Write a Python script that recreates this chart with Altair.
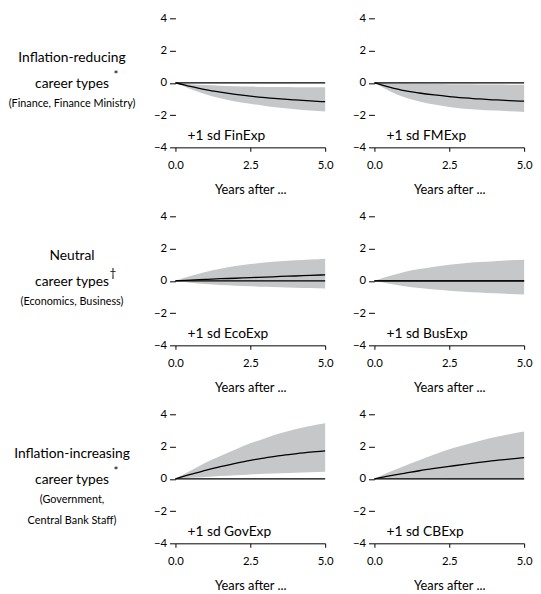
import altair as alt
import pandas as pd

FONT = "Lato"

years = [0.0, 0.5, 1.0, 1.5, 2.0, 2.5, 3.0, 3.5, 4.0, 4.5, 5.0]

panel_names = [["FinExp", "FMExp"], ["EcoExp", "BusExp"], ["GovExp", "CBExp"]]

est = {
    "FinExp": [0, -0.22, -0.42, -0.58, -0.72, -0.83, -0.92, -1.00, -1.06, -1.12, -1.17],
    "FMExp":  [0, -0.26, -0.48, -0.63, -0.75, -0.85, -0.93, -1.00, -1.05, -1.10, -1.14],
    "EcoExp": [0, 0.05, 0.09, 0.13, 0.16, 0.20, 0.23, 0.27, 0.30, 0.34, 0.37],
    "BusExp": [0, 0.00, 0.00, 0.00, 0.00, 0.00, 0.00, 0.00, 0.00, 0.00, 0.00],
    "GovExp": [0, 0.28, 0.52, 0.75, 0.96, 1.15, 1.30, 1.44, 1.55, 1.65, 1.73],
    "CBExp":  [0, 0.18, 0.34, 0.50, 0.64, 0.77, 0.90, 1.02, 1.13, 1.22, 1.31],
}
upper = {
    "FinExp": [0, -0.08, -0.14, -0.18, -0.21, -0.23, -0.25, -0.26, -0.27, -0.28, -0.28],
    "FMExp":  [0, -0.02, -0.04, -0.06, -0.07, -0.08, -0.09, -0.10, -0.11, -0.12, -0.12],
    "EcoExp": [0, 0.30, 0.55, 0.75, 0.92, 1.04, 1.13, 1.21, 1.27, 1.32, 1.37],
    "BusExp": [0, 0.30, 0.55, 0.73, 0.88, 1.00, 1.09, 1.16, 1.22, 1.27, 1.31],
    "GovExp": [0, 0.50, 1.00, 1.42, 1.82, 2.20, 2.52, 2.82, 3.07, 3.28, 3.45],
    "CBExp":  [0, 0.42, 0.80, 1.15, 1.50, 1.83, 2.10, 2.35, 2.57, 2.77, 2.94],
}
lower = {
    "FinExp": [0, -0.38, -0.70, -0.95, -1.15, -1.30, -1.43, -1.54, -1.63, -1.71, -1.78],
    "FMExp":  [0, -0.50, -0.90, -1.15, -1.35, -1.50, -1.60, -1.67, -1.72, -1.76, -1.80],
    "EcoExp": [0, -0.12, -0.20, -0.26, -0.30, -0.34, -0.37, -0.40, -0.43, -0.45, -0.47],
    "BusExp": [0, -0.18, -0.33, -0.45, -0.54, -0.61, -0.67, -0.72, -0.77, -0.81, -0.84],
    "GovExp": [0, 0.06, 0.12, 0.17, 0.22, 0.27, 0.31, 0.35, 0.38, 0.41, 0.44],
    "CBExp":  [0, -0.01, -0.02, -0.03, -0.03, -0.04, -0.04, -0.04, -0.05, -0.05, -0.05],
}

row_titles = ["Inflation-reducing", "Neutral", "Inflation-increasing"]
row_mid = ["career types", "career types", "career types"]
row_sup = ["*", "\u2020", "*"]
row_subs = [["(Finance, Finance Ministry)"], ["(Economics, Business)"], ["(Government,", "Central Bank Staff)"]]

y_ticks = [-4, -2, 0, 2, 4]
x_ticks = [0, 2.5, 5]
ann_t, ann_v = 0.4, -3.3

W, H = 152, 131
LW = 120
CX = 65

yscale = alt.Scale(domain=[-4, 4], nice=False, zero=False)
yaxis = alt.Axis(values=y_ticks, format="d", domain=False, tickSize=6, labelPadding=3,
                 grid=False, title=None, tickColor="black", labelOverlap=False)
xscale = alt.Scale(domain=[0, 5], nice=False, zero=False)
xaxis = alt.Axis(values=x_ticks, format=".1f", title="Years after ...", grid=False,
                 tickSize=4, labelPadding=8, titlePadding=13, domainColor="black",
                 tickColor="black", labelFlush=False, labelOverlap=False)


def panel(name):
    df = pd.DataFrame({"t": years, "est": est[name], "lo": lower[name], "hi": upper[name]})
    base = alt.Chart(df)
    xenc = alt.X("t:Q", scale=xscale, axis=xaxis)
    band = base.mark_area(color="#c6c7c9", interpolate="monotone").encode(
        x=xenc, y=alt.Y("lo:Q", scale=yscale, axis=yaxis), y2="hi:Q")
    zero = alt.Chart(pd.DataFrame({"z": [0]})).mark_rule(color="black", strokeWidth=1.2).encode(
        y=alt.Y("z:Q", scale=yscale, axis=yaxis))
    line = base.mark_line(color="black", strokeWidth=1.3, interpolate="monotone").encode(
        x=xenc, y=alt.Y("est:Q", scale=yscale, axis=yaxis))
    ann = alt.Chart(pd.DataFrame({"lab": ["+1 sd " + name], "t": [ann_t], "v": [ann_v]})).mark_text(
        align="left", baseline="middle", font=FONT, fontSize=14, color="black").encode(
        x=xenc, y=alt.Y("v:Q", scale=yscale, axis=yaxis), text="lab:N")
    return alt.layer(band, zero, line, ann).properties(width=W, height=H)


def txt(s, x, y, size, align="center"):
    return alt.Chart(pd.DataFrame({"s": [s]})).mark_text(
        align=align, baseline="middle", font=FONT, fontSize=size, color="black").encode(
        x=alt.value(x), y=alt.value(y), text="s:N")


def row_label(i):
    sup_dx = 38 if row_sup[i] == "\u2020" else 42
    layers = [txt(row_titles[i], CX, 40, 14), txt(row_mid[i], CX, 67, 14),
              txt(row_sup[i], CX + sup_dx, 58, 12, align="left")]
    for j, s in enumerate(row_subs[i]):
        layers.append(txt(s, CX, 87 + 21 * j, 11))
    return alt.layer(*layers).properties(width=LW, height=H)


cells = []
for i, pair in enumerate(panel_names):
    cells += [row_label(i), panel(pair[0]), panel(pair[1])]

chart = alt.concat(*cells, columns=3, spacing={"row": 70, "column": 50}, bounds="flush").properties(
    padding=0).configure_view(stroke=None).configure_axis(
    labelFont=FONT, labelFontSize=11.5, labelColor="black", titleFont=FONT, titleFontSize=13,
    titleFontWeight="normal", titleColor="black")

chart.save("out.html", embed_options={"renderer": "svg", "actions": False})
